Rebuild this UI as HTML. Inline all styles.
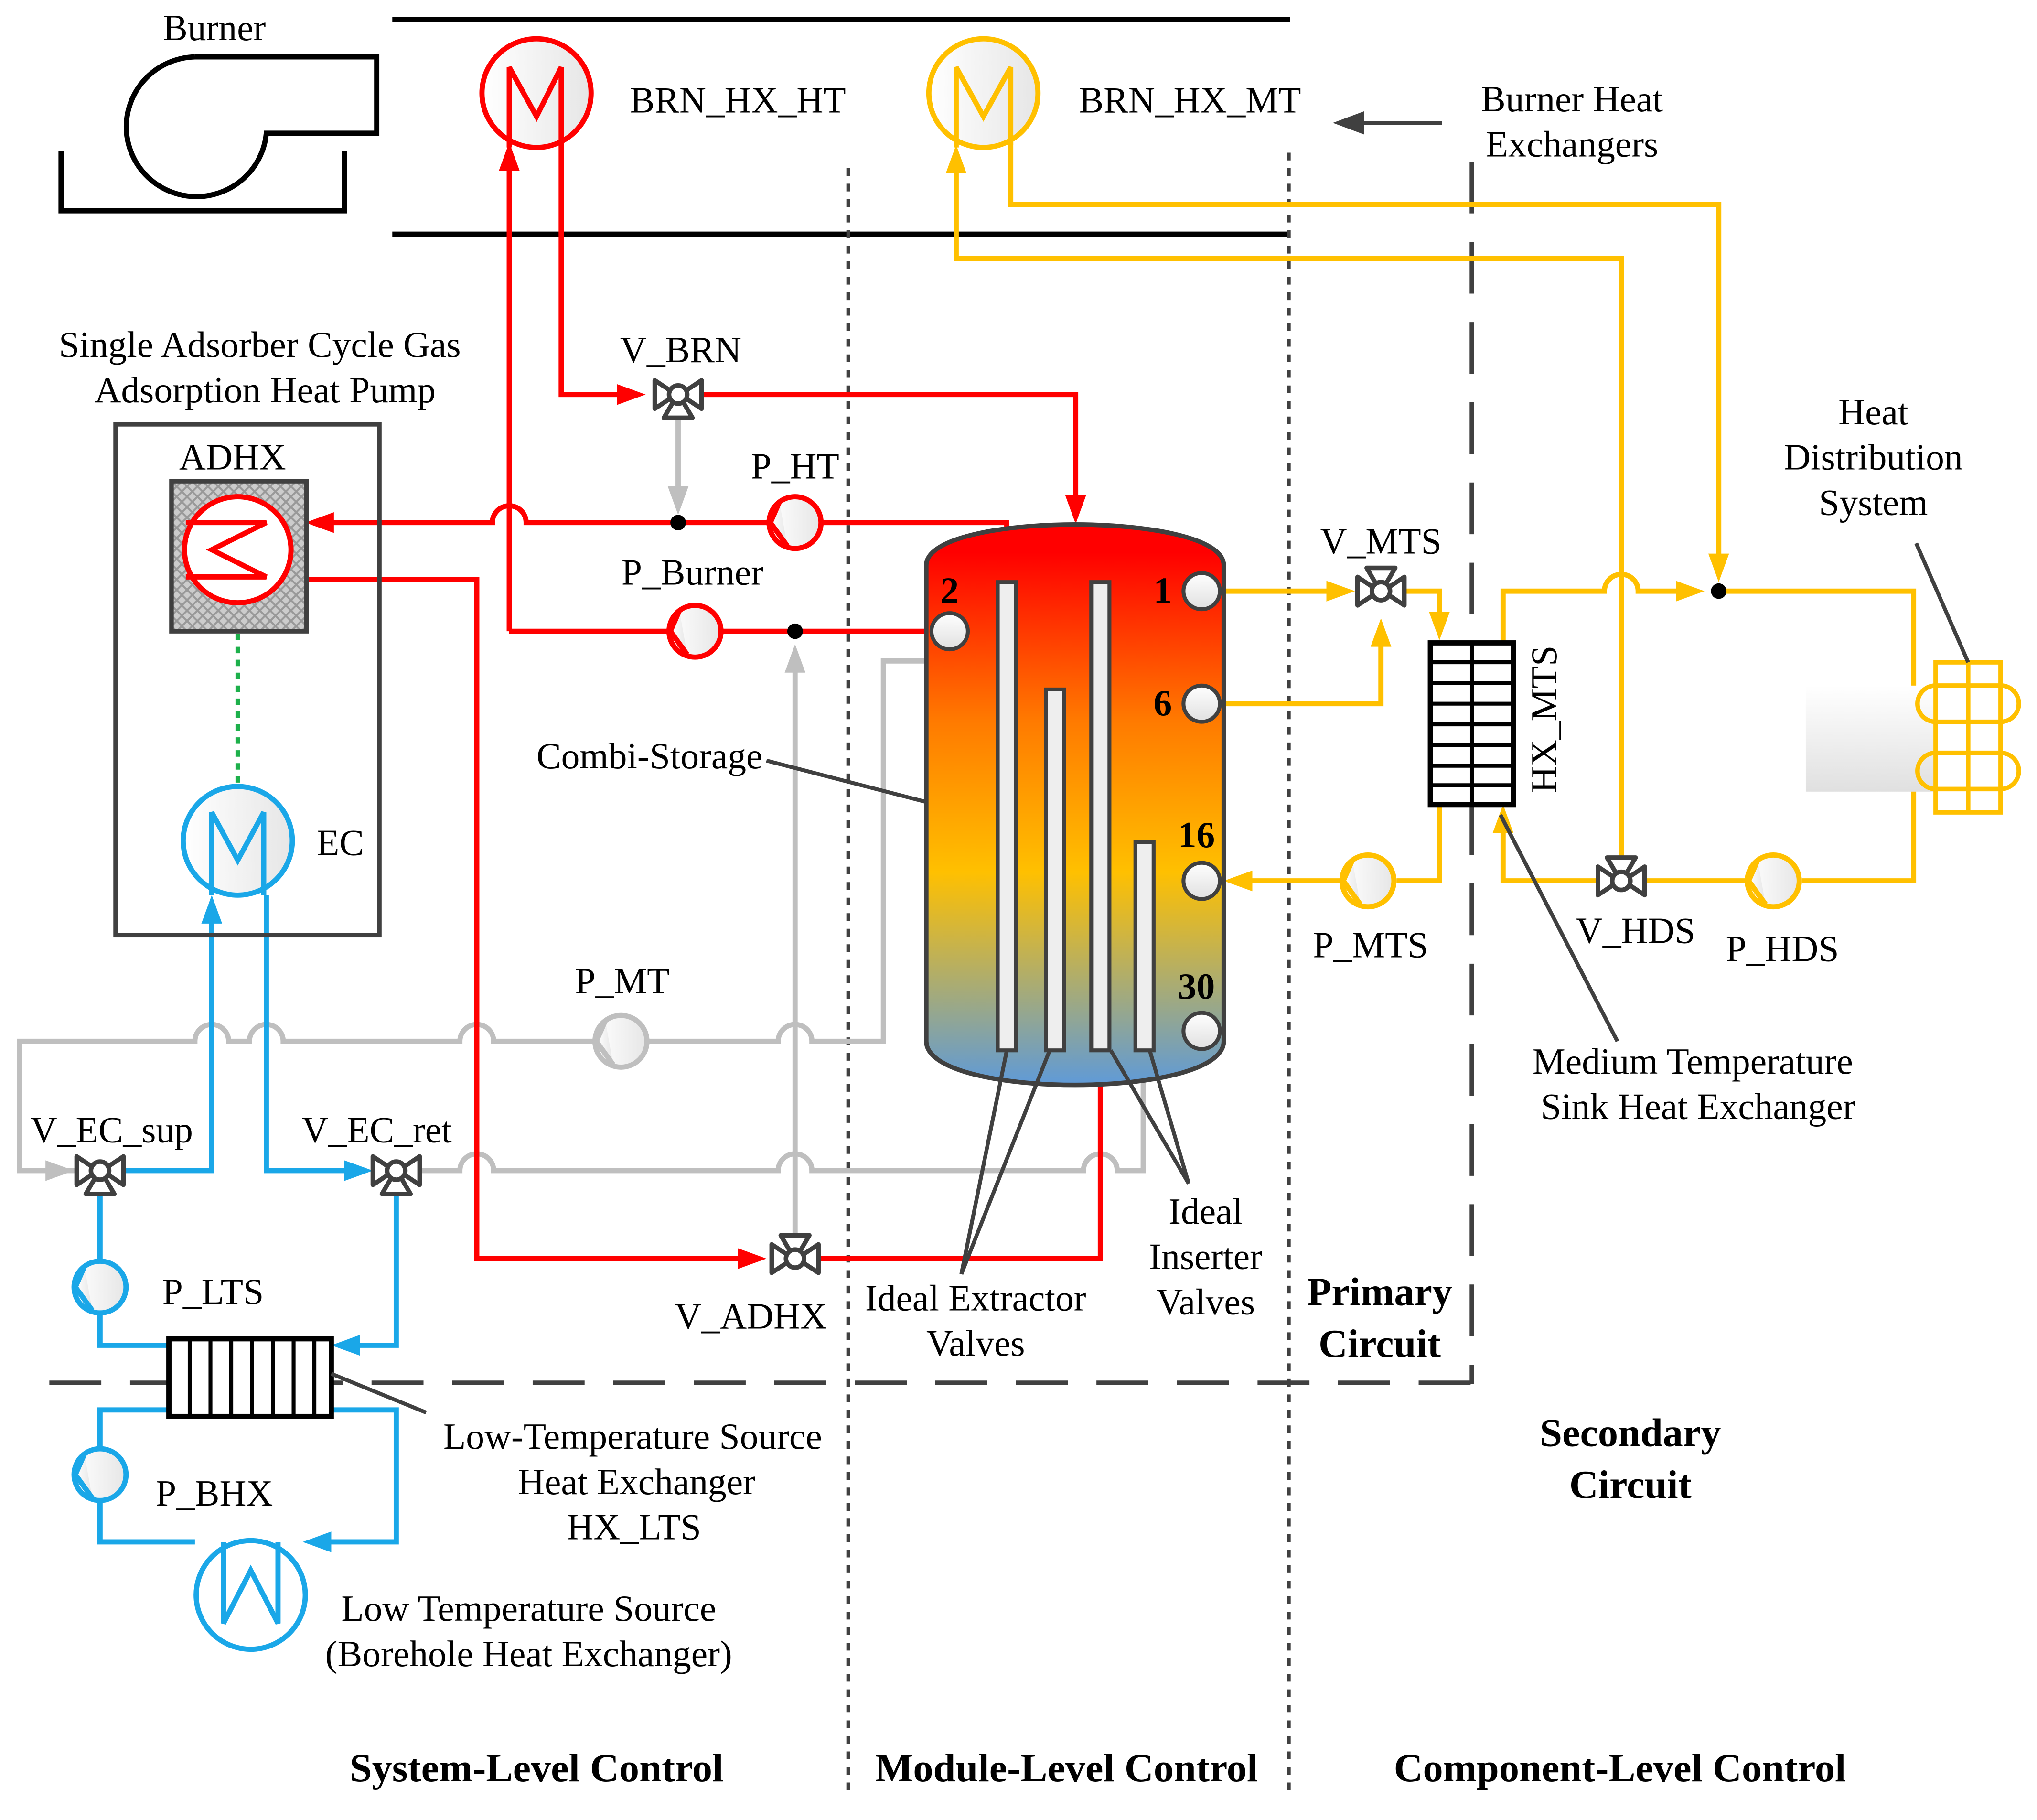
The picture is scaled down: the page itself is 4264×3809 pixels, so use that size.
<!DOCTYPE html>
<html><head><meta charset="utf-8"><style>
html,body{margin:0;padding:0;background:#fff}
svg{display:block}
text{font-family:"Liberation Serif",serif;font-size:28.5px;fill:#000}
.b{font-weight:bold;font-size:31px}
</style></head><body>
<svg width="4264" height="3809" viewBox="0 0 1568 1407" preserveAspectRatio="none" xmlns="http://www.w3.org/2000/svg">
<defs>
<linearGradient id="tank" x1="0" y1="0" x2="0" y2="1">
<stop offset="0.05" stop-color="#ff0000"/><stop offset="0.35" stop-color="#ff7a00"/><stop offset="0.62" stop-color="#ffc000"/><stop offset="1" stop-color="#5f9ad8"/></linearGradient>
<linearGradient id="gr" x1="0" y1="0" x2="1" y2="0"><stop offset="0" stop-color="#fff"/><stop offset="1" stop-color="#e6e6e6"/></linearGradient>
<linearGradient id="gv" x1="0" y1="0" x2="0" y2="1"><stop offset="0" stop-color="#fff"/><stop offset="1" stop-color="#e0e0e0"/></linearGradient>
<pattern id="hatch" width="8" height="8" patternUnits="userSpaceOnUse"><rect width="8" height="8" fill="#ccc"/><path d="M0,0L8,8M8,0L0,8" stroke="#999" stroke-width="1.5"/></pattern>
<g id="valve"><path d="M-18,-11L-6,-3L-6,3L-18,11Z M18,-11L6,-3L6,3L18,11Z" fill="#fff" stroke="#404040" stroke-width="3.5" stroke-linejoin="round"/><path d="M-4,6L-11,18L11,18L4,6Z" fill="#fff" stroke="#404040" stroke-width="3.5" stroke-linejoin="round"/><circle r="7" fill="#fff" stroke="#404040" stroke-width="3.5"/></g>
</defs>
<g fill="none" stroke-linecap="butt">
<!-- burner -->
<path d="M150,44L290,44L290,103L205,103A54,54 0 1 1 150,44" stroke="#000" stroke-width="4"/>
<path d="M47,117L47,163L265,163L265,117" stroke="#000" stroke-width="4"/>
<line x1="302" y1="15" x2="993" y2="15" stroke="#000" stroke-width="4"/>
<line x1="302" y1="181" x2="993" y2="181" stroke="#000" stroke-width="4"/>
<!-- separators -->
<line x1="653" y1="130" x2="653" y2="1390" stroke="#404040" stroke-width="3" stroke-dasharray="6,6"/>
<line x1="992" y1="118" x2="992" y2="1390" stroke="#404040" stroke-width="3" stroke-dasharray="6,6"/>
<line x1="1133" y1="125" x2="1133" y2="1070" stroke="#404040" stroke-width="3.5" stroke-dasharray="40,22"/>
<line x1="38" y1="1069" x2="1133" y2="1069" stroke="#404040" stroke-width="3.5" stroke-dasharray="40,22"/>
<!-- gray pipes -->
<g stroke="#bfbfbf" stroke-width="4">
<path d="M60,905L15,905L15,805L150,805a13,13 0 0 1 26,0L192,805a13,13 0 0 1 26,0L354,805a13,13 0 0 1 26,0L599,805a13,13 0 0 1 26,0L680,805L680,511L812,511L812,533"/>
<path d="M322,905L354,905a13,13 0 0 1 26,0L599,905a13,13 0 0 1 26,0L834,905a13,13 0 0 1 26,0L880,905L880,830"/>
<path d="M612,958L612,515"/>
<path d="M522,322L522,385"/>
</g>
<g fill="#bfbfbf"><path d="M612,498L604,520L620,520Z"/><path d="M522,398L514,376L530,376Z"/><path d="M880,812L872,834L888,834Z"/><path d="M57,905L35,897L35,913Z"/></g>
<!-- red pipes -->
<g stroke="#ff0000" stroke-width="4">
<path d="M432,110L432,305L480,305M540,305L828,305L828,385"/>
<path d="M392,488L392,130"/>
<path d="M392,488L515,488M555,488L717,488"/>
<path d="M775,448L775,404L633,404M592,404L405,404a13,13 0 0 0 -26,0L255,404"/>
<path d="M225,448L367,448L367,973L570,973M630,973L847,973L847,835"/>
</g>
<g fill="#ff0000"><path d="M828,405L820,383L836,383Z"/><path d="M392,110L384,132L400,132Z"/><path d="M497,305L475,297L475,313Z"/><path d="M235,404L257,396L257,412Z"/><path d="M590,973L568,965L568,981Z"/><path d="M847,813L839,835L855,835Z"/></g>
<!-- yellow pipes -->
<g stroke="#ffc000" stroke-width="4">
<path d="M778,110L778,158L1323,158L1323,440"/>
<path d="M736,130L736,200L1248,200L1248,668"/>
<path d="M938,457L1025,457M1081,457L1108,457L1108,478"/>
<path d="M938,544L1063,544L1063,498"/>
<path d="M1108,622L1108,681L1075,681M1033,681L962,681"/>
<path d="M1157,497L1157,457L1235,457a13,13 0 0 1 26,0L1300,457M1323,457L1473,457L1473,681L1387,681M1345,681L1266,681M1230,681L1157,681L1157,640"/>
</g>
<g fill="#ffc000"><path d="M1323,450L1315,428L1331,428Z"/><path d="M736,112L728,134L744,134Z"/><path d="M1043,457L1021,449L1021,465Z"/><path d="M1108,495L1100,473L1116,473Z"/><path d="M1063,478L1055,500L1071,500Z"/><path d="M942,681L964,673L964,689Z"/><path d="M1157,622L1149,644L1165,644Z"/><path d="M1312,457L1290,449L1290,465Z"/></g>
<!-- blue pipes -->
<g stroke="#1aa7e8" stroke-width="4">
<path d="M163,712L163,905L95,905"/>
<path d="M205,692L205,905L270,905"/>
<path d="M77,920L77,1040L130,1040"/>
<path d="M305,920L305,1040L270,1040"/>
<path d="M130,1090L77,1090L77,1192L150,1192"/>
<path d="M255,1090L305,1090L305,1192L250,1192"/>
</g>
<g fill="#1aa7e8"><path d="M163,692L155,714L171,714Z"/><path d="M287,905L265,897L265,913Z"/><path d="M255,1040L277,1032L277,1048Z"/><path d="M233,1192L255,1184L255,1200Z"/></g>
<line x1="183" y1="490" x2="183" y2="607" stroke="#1db04b" stroke-width="3.5" stroke-dasharray="5,5"/>
<!-- ADHX -->
<rect x="89" y="328" width="203" height="395" stroke="#404040" stroke-width="3.5"/>
<rect x="132" y="372" width="104" height="116" fill="url(#hatch)" stroke="#404040" stroke-width="3.5"/>
<circle cx="183" cy="425" r="41" fill="#fff" stroke="#ff0000" stroke-width="4"/>
<path d="M143,404L205,404L163,425L205,446L143,446" stroke="#ff0000" stroke-width="4"/>
<circle cx="183" cy="650" r="42" fill="url(#gr)" stroke="#1aa7e8" stroke-width="4"/>
<path d="M163,692L163,628L183,665L203,628L203,692" stroke="#1aa7e8" stroke-width="4"/>
<circle cx="413" cy="72" r="42" fill="url(#gr)" stroke="#ff0000" stroke-width="4"/>
<path d="M392,114L392,52L413,90L432,52L432,112" stroke="#ff0000" stroke-width="4"/>
<circle cx="757" cy="72" r="42" fill="url(#gr)" stroke="#ffc000" stroke-width="4"/>
<path d="M736,114L736,52L757,90L778,52L778,112" stroke="#ffc000" stroke-width="4"/>
<circle cx="193" cy="1233" r="42" fill="#fff" stroke="#1aa7e8" stroke-width="4"/>
<path d="M172,1192L172,1255L193,1214L214,1255L214,1192" stroke="#1aa7e8" stroke-width="4"/>
<!-- tank -->
<path d="M713,437C713,395 942,395 942,437L942,805C942,850 713,850 713,805Z" fill="url(#tank)" stroke="#404040" stroke-width="3.5"/>
<g fill="#eee" stroke="#404040" stroke-width="3"><rect x="768" y="450" width="14" height="362"/><rect x="805" y="533" width="14" height="279"/><rect x="840" y="450" width="14" height="362"/><rect x="874" y="651" width="14" height="161"/></g>
<g fill="url(#gv)" stroke="#404040" stroke-width="3"><circle cx="731" cy="488" r="14"/><circle cx="925" cy="457" r="14"/><circle cx="925" cy="544" r="14"/><circle cx="925" cy="681" r="14"/><circle cx="925" cy="797" r="14"/></g>
<!-- HX_MTS -->
<rect x="1101" y="497" width="64" height="125" fill="#fff" stroke="#000" stroke-width="4"/>
<path d="M1101,512H1165M1101,528H1165M1101,544H1165M1101,560H1165M1101,576H1165M1101,592H1165M1101,607H1165M1133,497V622" stroke="#000" stroke-width="3"/>
<!-- HX_LTS -->
<rect x="130" y="1035" width="125" height="60" fill="#fff" stroke="#000" stroke-width="4"/>
<path d="M146,1035V1095M162,1035V1095M178,1035V1095M194,1035V1095M210,1035V1095M226,1035V1095M242,1035V1095" stroke="#000" stroke-width="3"/>
<!-- radiator -->
<rect x="1390" y="530" width="100" height="82" fill="url(#gv)"/>
<g stroke="#ffc000" stroke-width="3.5"><rect x="1490" y="512" width="50" height="116" fill="none"/><path d="M1490,530H1540a14,14 0 0 1 0,28H1490M1490,530a14,14 0 0 0 0,28M1490,582H1540a14,14 0 0 1 0,28H1490M1490,582a14,14 0 0 0 0,28M1515,512V628"/></g>
<!-- pumps -->
<g stroke-width="4" fill="url(#gr)">
<g stroke="#ff0000"><circle cx="612" cy="404" r="20"/><path d="M600,388L593,404L606,422"/><circle cx="535" cy="488" r="20"/><path d="M523,472L516,488L529,506"/></g>
<g stroke="#ffc000"><circle cx="1053" cy="681" r="20"/><path d="M1041,665L1034,681L1047,699"/><circle cx="1365" cy="681" r="20"/><path d="M1353,665L1346,681L1359,699"/></g>
<g stroke="#bfbfbf"><circle cx="478" cy="805" r="20"/><path d="M466,789L459,805L472,823"/></g>
<g stroke="#1aa7e8"><circle cx="77" cy="995" r="20"/><path d="M65,979L58,995L71,1013"/><circle cx="77" cy="1140" r="20"/><path d="M65,1124L58,1140L71,1158"/></g>
</g>
<!-- valves -->
<use href="#valve" transform="translate(522,305)"/>
<use href="#valve" transform="translate(1063,457) rotate(180)"/>
<use href="#valve" transform="translate(1248,681) rotate(180)"/>
<use href="#valve" transform="translate(612,973) rotate(180)"/>
<use href="#valve" transform="translate(77,905)"/>
<use href="#valve" transform="translate(305,905)"/>
<!-- dots -->
<g fill="#000"><circle cx="522" cy="404" r="6"/><circle cx="612" cy="488" r="6"/><circle cx="1323" cy="457" r="6"/></g>
<!-- annotation lines -->
<g stroke="#404040" stroke-width="3">
<line x1="1110" y1="95" x2="1045" y2="95"/>
<line x1="590" y1="588" x2="713" y2="620"/>
<line x1="740" y1="985" x2="775" y2="812"/><line x1="740" y1="985" x2="808" y2="812"/>
<line x1="915" y1="915" x2="855" y2="812"/><line x1="915" y1="915" x2="885" y2="812"/>
<line x1="1245" y1="805" x2="1155" y2="630"/>
<line x1="328" y1="1092" x2="255" y2="1062"/>
<line x1="1475" y1="420" x2="1515" y2="512"/>
</g>
<path d="M1026,95L1050,86L1050,104Z" fill="#404040"/>
</g>
<!-- texts -->
<text x="165" y="31" text-anchor="middle">Burner</text>
<text x="568" y="87" text-anchor="middle">BRN_HX_HT</text>
<text x="916" y="87" text-anchor="middle">BRN_HX_MT</text>
<text x="1210" y="86" text-anchor="middle">Burner Heat</text>
<text x="1210" y="121" text-anchor="middle">Exchangers</text>
<text x="200" y="276" text-anchor="middle">Single Adsorber Cycle Gas</text>
<text x="204" y="311" text-anchor="middle">Adsorption Heat Pump</text>
<text x="179" y="363" text-anchor="middle">ADHX</text>
<text x="262" y="661" text-anchor="middle">EC</text>
<text x="524" y="280" text-anchor="middle">V_BRN</text>
<text x="612" y="370" text-anchor="middle">P_HT</text>
<text x="533" y="452" text-anchor="middle">P_Burner</text>
<text x="500" y="594" text-anchor="middle">Combi-Storage</text>
<text x="479" y="768" text-anchor="middle">P_MT</text>
<text x="86" y="883" text-anchor="middle">V_EC_sup</text>
<text x="290" y="883" text-anchor="middle">V_EC_ret</text>
<text x="164" y="1008" text-anchor="middle">P_LTS</text>
<text x="165" y="1164" text-anchor="middle">P_BHX</text>
<text x="578" y="1027" text-anchor="middle">V_ADHX</text>
<text x="487" y="1120" text-anchor="middle">Low-Temperature Source</text>
<text x="490" y="1155" text-anchor="middle">Heat Exchanger</text>
<text x="488" y="1190" text-anchor="middle">HX_LTS</text>
<text x="407" y="1253" text-anchor="middle">Low Temperature Source</text>
<text x="407" y="1288" text-anchor="middle">(Borehole Heat Exchanger)</text>
<text x="751" y="1013" text-anchor="middle">Ideal Extractor</text>
<text x="751" y="1048" text-anchor="middle">Valves</text>
<text x="928" y="946" text-anchor="middle">Ideal</text>
<text x="928" y="981" text-anchor="middle">Inserter</text>
<text x="928" y="1016" text-anchor="middle">Valves</text>
<text x="731" y="466" text-anchor="middle" style="font-weight:bold">2</text><text x="895" y="466" text-anchor="middle" style="font-weight:bold">1</text><text x="895" y="553" text-anchor="middle" style="font-weight:bold">6</text><text x="921" y="655" text-anchor="middle" style="font-weight:bold">16</text><text x="921" y="772" text-anchor="middle" style="font-weight:bold">30</text>
<text x="1063" y="428" text-anchor="middle">V_MTS</text>
<text x="1055" y="740" text-anchor="middle">P_MTS</text>
<text x="1259" y="729" text-anchor="middle">V_HDS</text>
<text x="1372" y="743" text-anchor="middle">P_HDS</text>
<text x="0" y="0" text-anchor="middle" transform="translate(1198,556) rotate(-90)">HX_MTS</text>
<text x="1442" y="328" text-anchor="middle">Heat</text>
<text x="1442" y="363" text-anchor="middle">Distribution</text>
<text x="1442" y="398" text-anchor="middle">System</text>
<text x="1303" y="830" text-anchor="middle">Medium Temperature</text>
<text x="1307" y="865" text-anchor="middle">Sink Heat Exchanger</text>
<text class="b" x="1062" y="1009" text-anchor="middle">Primary</text>
<text class="b" x="1062" y="1049" text-anchor="middle">Circuit</text>
<text class="b" x="1255" y="1118" text-anchor="middle">Secondary</text>
<text class="b" x="1255" y="1158" text-anchor="middle">Circuit</text>
<text class="b" x="413" y="1377" text-anchor="middle">System-Level Control</text>
<text class="b" x="821" y="1377" text-anchor="middle">Module-Level Control</text>
<text class="b" x="1247" y="1377" text-anchor="middle">Component-Level Control</text>
</svg>
</body></html>
